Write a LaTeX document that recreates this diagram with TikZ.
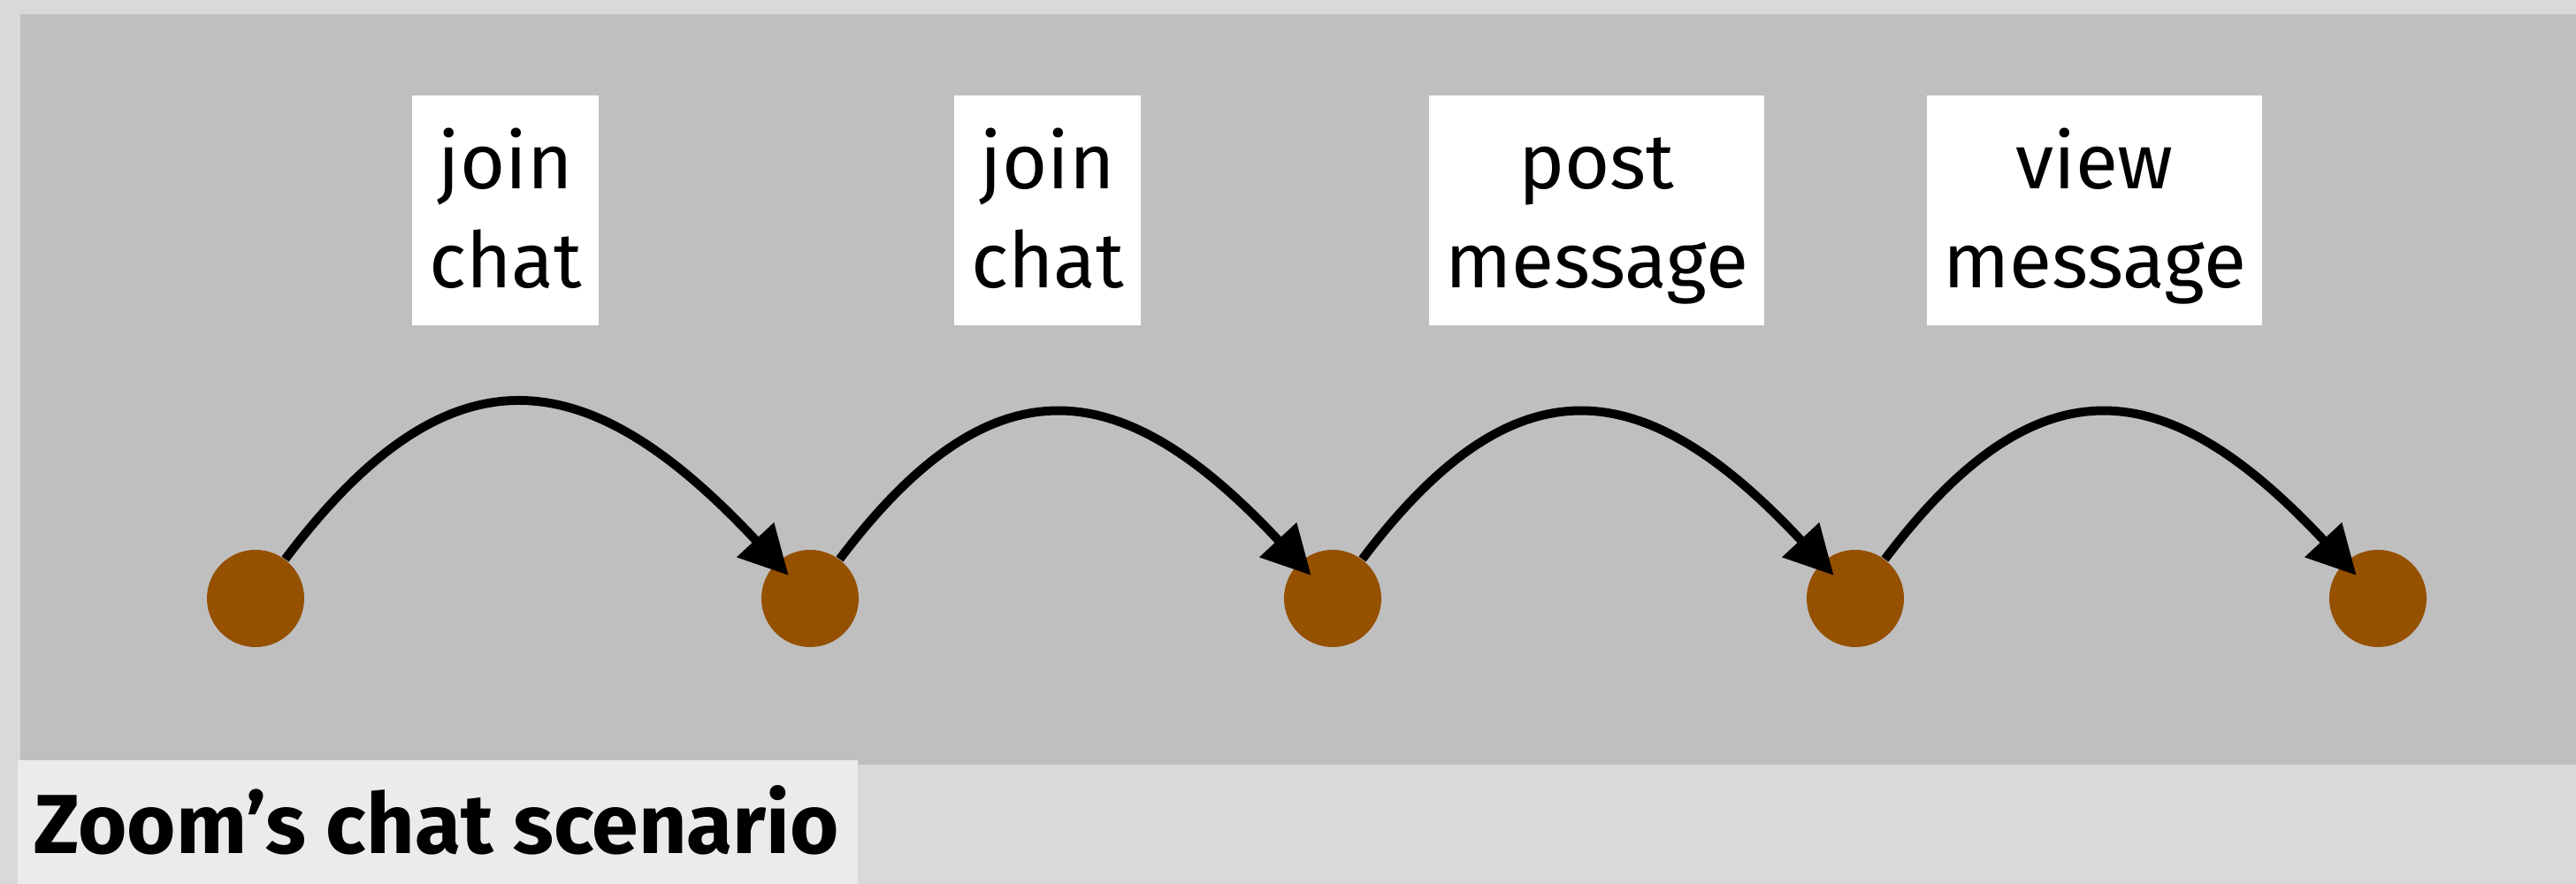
\documentclass[tikz,border=0pt]{standalone}
\usepackage{fontspec}
\setmainfont{Fira Sans}
\usetikzlibrary{arrows.meta}
\definecolor{outerbg}{HTML}{D9D9D9}
\definecolor{panelbg}{HTML}{BFBFBF}
\definecolor{titlebg}{HTML}{EBEBEB}
\definecolor{statebrown}{HTML}{955000}
\newcommand{\labtop}{\rule{0pt}{0.93cm}}
\newcommand{\labbot}{\rule[-0.3cm]{0pt}{0.3cm}}
\tikzset{
	state/.style={circle,fill=statebrown,minimum size=1.1cm,inner sep=0pt},
	action/.style={fill=white,align=center,minimum height=2.6cm,inner sep=0pt,font=\fontsize{25}{31.6}\selectfont},
	hop/.style={-{Triangle[length=0.55cm,width=0.55cm]},line width=0.1cm,shorten >=-0.2cm,looseness=1.43}
}
\begin{document}
\begin{tikzpicture}
		%frame
		\fill[outerbg] (0,0) rectangle (29.13,10);
		\useasboundingbox (0,0) rectangle (29.13,10);
		\fill[panelbg] (0.23,1.35) rectangle (29.13,9.84);
		\fill[titlebg] (0.20,0) rectangle (9.70,1.40);
		\node[anchor=base west,inner sep=0pt,font=\bfseries\fontsize{27}{30}\selectfont] (title) at (0.38,0.34) {Zoom’s chat scenario};
		%states
		\node[state] (s0) at (2.89,3.23) {};
		\node[state] (s1) at (9.16,3.23) {};
		\node[state] (s2) at (15.07,3.23) {};
		\node[state] (s3) at (20.98,3.23) {};
		\node[state] (s4) at (26.89,3.23) {};
		%actions
		\node[action,minimum width=2.11cm] (a1) at (5.715,7.62) {\labtop join\\chat\labbot};
		\node[action,minimum width=2.11cm] (a2) at (11.845,7.62) {\labtop join\\chat\labbot};
		\node[action,minimum width=3.79cm] (a3) at (18.055,7.62) {\labtop post\\message\labbot};
		\node[action,minimum width=3.79cm] (a4) at (23.685,7.62) {\labtop view\\message\labbot};
		%hops
		\draw[hop] (s0) to[out=53,in=133] (s1);
		\draw[hop] (s1) to[out=53,in=133] (s2);
		\draw[hop] (s2) to[out=53,in=133] (s3);
		\draw[hop] (s3) to[out=53,in=133] (s4);
	\end{tikzpicture}
\end{document}
